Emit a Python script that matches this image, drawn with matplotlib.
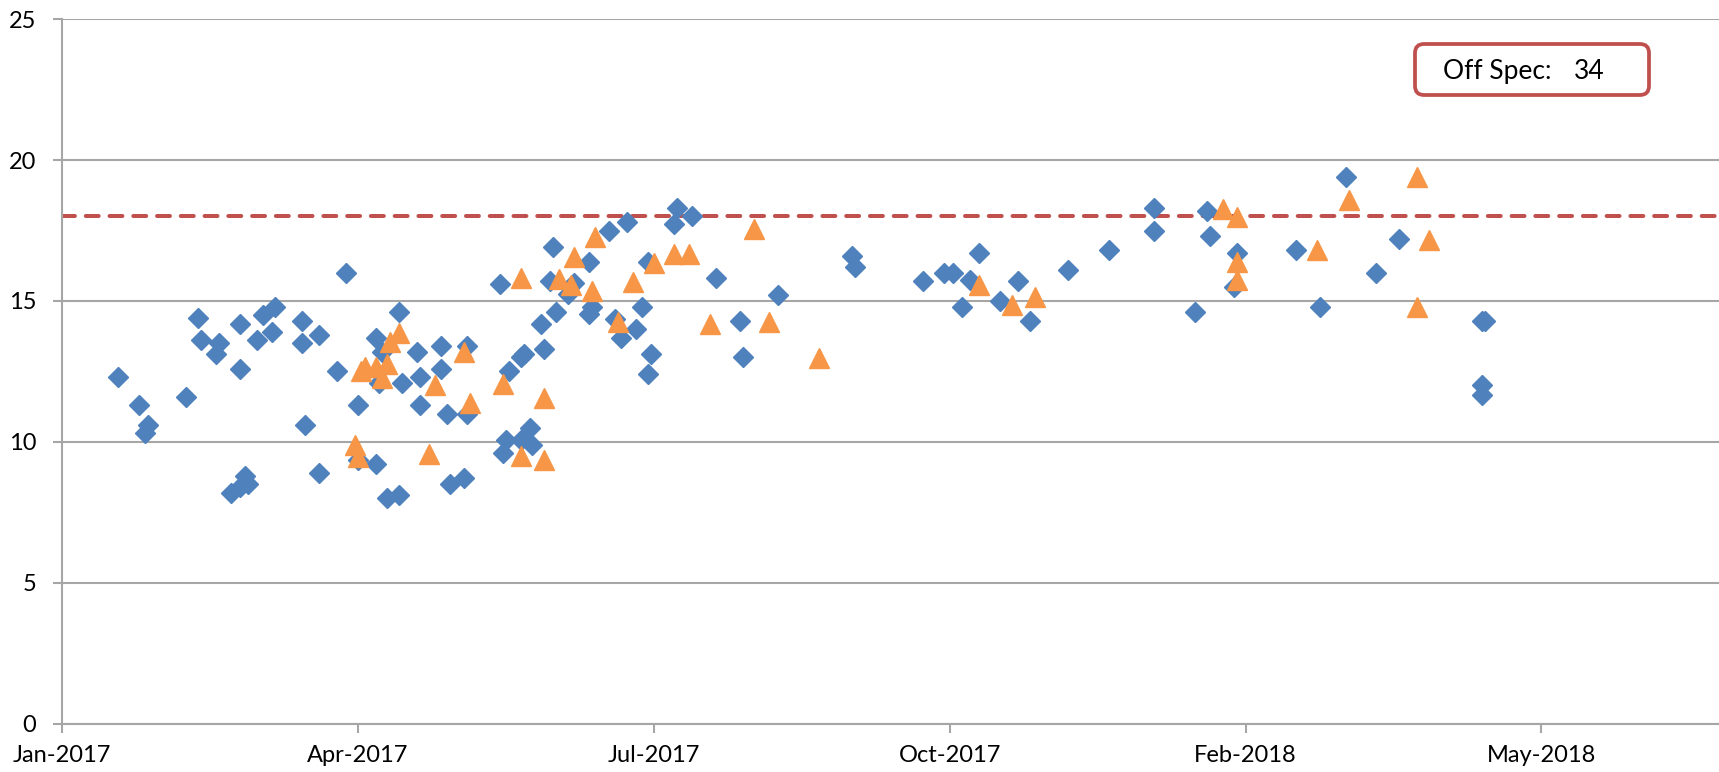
import pandas as pd
import matplotlib
matplotlib.use('Agg')
import matplotlib.pyplot as plt
import matplotlib.dates as mdates
from matplotlib.patches import FancyBboxPatch
from matplotlib.transforms import IdentityTransform

# days counted from 1 Jan 2017
start = pd.Timestamp('2017-01-01')

blue_day = [19, 26, 29, 28, 42, 46, 47, 53, 52, 60, 60, 57, 62, 63, 60, 66, 68, 72, 71, 81,
            81, 87, 82, 87, 93, 96, 100, 100,
            106, 106, 108, 107, 114, 110, 114, 115, 120, 121, 121, 128, 128, 130, 131, 136,
            137, 137, 148, 149, 150, 151, 155, 156, 155, 158, 159, 162, 163, 167, 166, 165,
            171, 173, 178, 179, 178, 185, 191, 187, 189, 194,
            196, 198, 199, 198, 208, 207, 213, 221, 229, 230, 242, 267, 268,
            291, 298, 301, 304, 310, 307, 317, 323, 327, 340, 354, 369, 369, 383,
            387, 388, 397, 396, 417, 425, 434, 444, 452,
            480, 481, 480, 480]
blue_val = [12.3, 11.3, 10.6, 10.3, 11.6, 14.4, 13.6, 13.5, 13.1, 14.2, 12.6, 8.2, 8.8, 8.5, 8.4,
            13.6, 14.5, 14.8, 13.9, 14.3, 13.5, 13.8, 10.6, 8.9, 12.5, 16.0, 11.3, 9.35,
            9.2, 13.7, 13.2, 12.1, 14.6, 8.0, 8.1, 12.1, 13.2, 12.3, 11.3, 13.4, 12.6, 11.0, 8.5,
            8.7, 13.4, 11.0, 15.6, 9.6, 10.05, 12.5, 13.0, 13.1, 10.05, 10.5, 9.9, 14.2, 13.3,
            14.6, 16.9, 15.7, 15.25, 15.65, 16.4, 14.8, 14.55, 17.5, 17.8, 14.35, 13.7, 14.0,
            14.8, 16.4, 13.1, 12.4, 18.3, 17.75, 18.0, 15.8, 14.3, 13.0, 15.2, 16.6, 16.2,
            15.7, 16.0, 16.0, 14.8, 16.7, 15.75, 15.0, 15.7, 14.3, 16.1, 16.8, 18.3, 17.5, 14.6,
            18.2, 17.3, 16.7, 15.5, 16.8, 14.8, 19.4, 16.0, 17.2,
            14.3, 14.3, 12.0, 11.65]

orange_day = [99, 100, 101, 102.5, 106, 108, 110, 111, 114, 124, 126, 136, 138, 149, 155, 155,
              163, 163, 168, 172, 173, 179, 180, 188, 193, 200, 207, 212, 219, 234, 239, 256,
              310, 321, 329, 392.5, 397, 397, 397, 424, 435, 458, 462, 458]
orange_val = [9.9, 9.45, 12.5, 12.65, 12.65, 12.25, 12.75, 13.55, 13.87, 9.58, 12.0, 13.2, 11.38,
              12.07, 15.8, 9.5, 9.37, 11.57, 15.78, 15.57, 16.57, 15.37, 17.28, 14.26, 15.68,
              16.36, 16.66, 16.66, 14.18, 17.55, 14.26, 12.96, 15.56, 14.85, 15.15, 18.28,
              17.99, 16.37, 15.76, 16.8, 18.58, 19.41, 17.18, 14.79]

spec_limit = 18
off_spec = 34

plt.rcParams['font.family'] = ['Lato', 'DejaVu Sans']

fig = plt.figure(figsize=(17.19, 7.72), dpi=100)
ax = fig.add_axes([62 / 1719, 1 - 723.5 / 772, 1 - 62 / 1719, (723.5 - 19.3) / 772])

bx = start + pd.to_timedelta(blue_day, unit='D')
ox = start + pd.to_timedelta(orange_day, unit='D')

ax.axhline(spec_limit, color='#C0504D', lw=2.9, ls=(0, (3.2, 2.7)),
           dash_capstyle='round', zorder=2)
ax.plot(bx, blue_val, ls='none', marker='D', ms=9.8, color='#4F81BD', zorder=3)
ax.plot(ox, orange_val, ls='none', marker='^', ms=14.4, color='#F79646', zorder=4)

# axes
ax.set_ylim(0, 25)
ax.set_yticks(range(0, 26, 5))
ax.set_xlim(start, start + pd.Timedelta(days=560))
ax.set_xticks(pd.date_range(start, periods=6, freq='100D'))
ax.xaxis.set_major_formatter(mdates.DateFormatter('%b-%Y'))

grey = '#a6a6a6'
ax.yaxis.grid(True, color=grey, lw=1.5)
ax.set_axisbelow(True)
for s in ['top', 'right']:
    ax.spines[s].set_visible(False)
for s in ['left', 'bottom']:
    ax.spines[s].set_color(grey)
    ax.spines[s].set_linewidth(1.5)
ax.tick_params(axis='both', color=grey, width=1.5, length=6.5, labelsize=17)
ax.tick_params(axis='y', pad=12)
ax.tick_params(axis='x', pad=9)

# off spec box (pixel coordinates)
box = FancyBboxPatch((1415, 677), 234, 51, boxstyle='round,pad=0,rounding_size=9',
                     ec='#C0504D', fc='white', lw=2.7, transform=IdentityTransform())
fig.add_artist(box)
fig.text(1443, 693, 'Off Spec:', fontsize=19, va='baseline', transform=IdentityTransform())
fig.text(1574, 693, str(off_spec), fontsize=19, va='baseline', transform=IdentityTransform())

fig.savefig('out.png', dpi=100)
